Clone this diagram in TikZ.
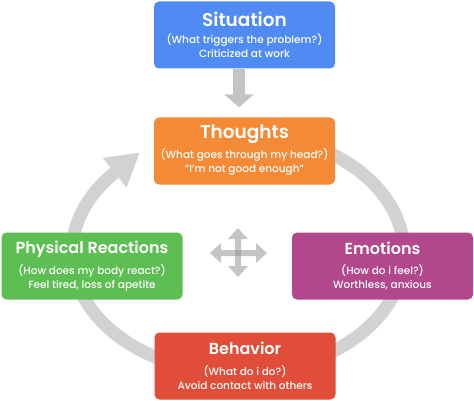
\documentclass[tikz,border=0pt]{standalone}
\usepackage{fontspec}
\setmainfont{Poppins Medium}[BoldFont={Poppins SemiBold}]
\usetikzlibrary{arrows.meta}
\definecolor{cblue}{HTML}{4F8BF2}
\definecolor{corange}{HTML}{F58A36}
\definecolor{cgreen}{HTML}{5DBE53}
\definecolor{cpurple}{HTML}{B2478C}
\definecolor{cred}{HTML}{E04E3A}
\definecolor{ringc}{HTML}{D2D2D2}
\definecolor{arrc}{HTML}{C4C4C4}
\definecolor{crossc}{HTML}{8C8C8C}
\begin{document}
\begin{tikzpicture}[x=1pt,y=-1pt,
  box/.style={rounded corners=5pt, minimum width=181pt, minimum height=67pt, inner sep=0pt},
  ttl/.style={text=white, inner sep=0pt, font=\bfseries\fontsize{16}{20}\selectfont},
  bigttl/.style={ttl, font=\bfseries\fontsize{18.5}{22}\selectfont},
  sub/.style={text=white, inner sep=0pt, align=center, font=\fontsize{10.5}{14}\selectfont},
  crossarm/.style={fill=crossc, fill opacity=0.5}]
\useasboundingbox (0,0) rectangle (474,401);
% cycle ring
\draw[ringc, line width=13pt] plot[domain=80:-222, samples=150] ({238+166*cos(\x)},{253-120*sin(\x)});
\fill[ringc] (139.6,152.7) -- (126.5,187.5) -- (102.7,157.9) -- cycle;
% boxes
\node[box, fill=cblue] (sit) at (244.5,35) {};
\node[box, fill=corange] (tho) at (244.5,151) {};
\node[box, fill=cgreen] (phy) at (92,266) {};
\node[box, fill=cpurple] (emo) at (382.5,266) {};
\node[box, fill=cred] (beh) at (245,366) {};
% texts
\node[bigttl] (sitT) at ([yshift=-18pt]sit.north) {Situation};
\node[sub] (sitS) at ([yshift=-44pt]sit.north) {(What triggers the problem?)\\Criticized at work};
\node[bigttl] (thoT) at ([yshift=-17pt]tho.north) {Thoughts};
\node[sub] (thoS) at ([yshift=-44.5pt]tho.north) {(What goes through my head?)\\“I’m not good enough”};
\node[ttl] (phyT) at ([yshift=-17pt]phy.north) {Physical Reactions};
\node[sub] (phyS) at ([yshift=-46pt]phy.north) {(How does my body react?)\\Feel tired, loss of apetite};
\node[ttl] (emoT) at ([yshift=-16pt]emo.north) {Emotions};
\node[sub] (emoS) at ([yshift=-45pt]emo.north) {(How do i feel?)\\Worthless, anxious};
\node[ttl] (behT) at ([yshift=-16pt]beh.north) {Behavior};
\node[sub] (behS) at ([yshift=-45pt]beh.north) {(What do i do?)\\Avoid contact with others};
% arrow situation -> thoughts
\draw[arrc, line width=12pt, -{Triangle[length=13pt,width=29pt]}] ([xshift=-5.5pt]sit.south) -- ([xshift=-5.5pt,yshift=10pt]tho.north);
% move cross
\coordinate (cc) at (238,253);
\fill[crossarm] (210,253) -- (221,243) -- (221,250) -- (256,250) -- (256,243) -- (267,253) -- (256,263) -- (256,256) -- (221,256) -- (221,263) -- cycle;
\fill[crossarm] (238,228) -- (248,239) -- (241,239) -- (241,266) -- (248,266) -- (238,277) -- (228,266) -- (235,266) -- (235,239) -- (228,239) -- cycle;
\end{tikzpicture}
\end{document}
